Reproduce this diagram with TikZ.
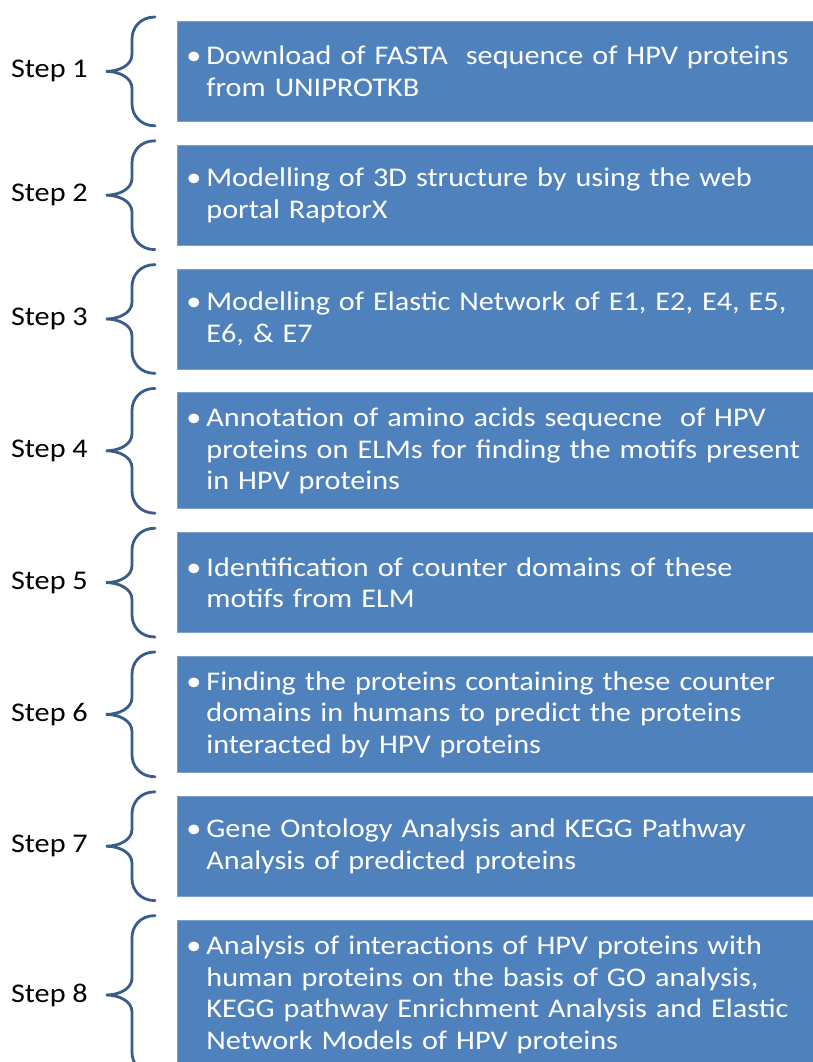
\documentclass[tikz,border=0pt]{standalone}
\usepackage{fontspec}
\setmainfont{Carlito}[FakeStretch=1.12]
\usetikzlibrary{positioning}
\definecolor{boxc}{RGB}{79,129,189}
\definecolor{bracec}{RGB}{56,93,138}
\newcommand{\bul}{\makebox[20pt][l]{\textbullet}}
\newcommand{\ind}{\hspace*{20pt}}
% curly brace on the left side of a step box
\newcommand{\stepbrace}[1]{%
  \draw[brc] ([shift={(-22pt,4pt)}]#1.north west)
    .. controls +(-15pt,0pt) and +(0pt,11pt) .. ([shift={(-45pt,-18pt)}]#1.north west)
    -- ([shift={(-45pt,17pt)}]#1.west)
    .. controls +(0pt,-11pt) and +(13pt,0pt) .. ([shift={(-71pt,0pt)}]#1.west)
    .. controls +(13pt,0pt) and +(0pt,11pt) .. ([shift={(-45pt,-17pt)}]#1.west)
    -- ([shift={(-45pt,18pt)}]#1.south west)
    .. controls +(0pt,-11pt) and +(-15pt,0pt) .. ([shift={(-22pt,-4pt)}]#1.south west);}

\begin{document}
\begin{tikzpicture}[x=1pt,y=1pt,
  font=\fontsize{27pt}{31.5pt}\selectfont,
  stepbox/.style={fill=boxc,draw=boxc!75!white,line width=0.8pt,text=white,align=left,
    text width=630pt,inner xsep=9pt,inner ysep=0pt,minimum height=100pt},
  steplab/.style={inner sep=0pt,text=black},
  brc/.style={draw=bracec,line width=2.8pt,line cap=round}]
\useasboundingbox (0,0) rectangle (813,-1062);
\clip (0,0) rectangle (813,-1062);
% --- the eight step boxes ---
\node[stepbox,anchor=north west] (s1) at (177,-21)
  {\bul Download of FASTA\ \ sequence of HPV proteins\\\ind from UNIPROTKB};
\node[stepbox,below=23pt of s1] (s2)
  {\bul Modelling of 3D structure by using the web\\\ind portal RaptorX};
\node[stepbox,below=23pt of s2] (s3)
  {\bul Modelling of Elastic Network of E1, E2, E4, E5,\\\ind E6, \& E7};
\node[stepbox,minimum height=116pt,below=23pt of s3] (s4)
  {\bul Annotation of amino acids sequecne\ \ of HPV\\\ind proteins on ELMs for finding the motifs present\\\ind in HPV proteins};
\node[stepbox,below=23pt of s4] (s5)
  {\bul Identification of counter domains of these\\\ind motifs from ELM};
\node[stepbox,minimum height=116pt,below=23pt of s5] (s6)
  {\bul Finding the proteins containing these counter\\\ind domains in humans to predict the proteins\\\ind interacted by HPV proteins};
\node[stepbox,below=23pt of s6] (s7)
  {\bul Gene Ontology Analysis and KEGG Pathway\\\ind Analysis of predicted proteins};
\node[stepbox,minimum height=150pt,below=23pt of s7] (s8)
  {\bul Analysis of interactions of HPV proteins with\\\ind human proteins on the basis of GO analysis,\\\ind KEGG pathway Enrichment Analysis and Elastic\\\ind Network Models of HPV proteins};
% --- step labels ---
\node[steplab,left=89pt of s1] (l1) {Step 1};
\node[steplab,left=89pt of s2] (l2) {Step 2};
\node[steplab,left=89pt of s3] (l3) {Step 3};
\node[steplab,left=89pt of s4] (l4) {Step 4};
\node[steplab,left=89pt of s5] (l5) {Step 5};
\node[steplab,left=89pt of s6] (l6) {Step 6};
\node[steplab,left=89pt of s7] (l7) {Step 7};
\node[steplab,left=89pt of s8] (l8) {Step 8};
% --- braces ---
\stepbrace{s1} \stepbrace{s2} \stepbrace{s3} \stepbrace{s4}
\stepbrace{s5} \stepbrace{s6} \stepbrace{s7} \stepbrace{s8}
\end{tikzpicture}
\end{document}
